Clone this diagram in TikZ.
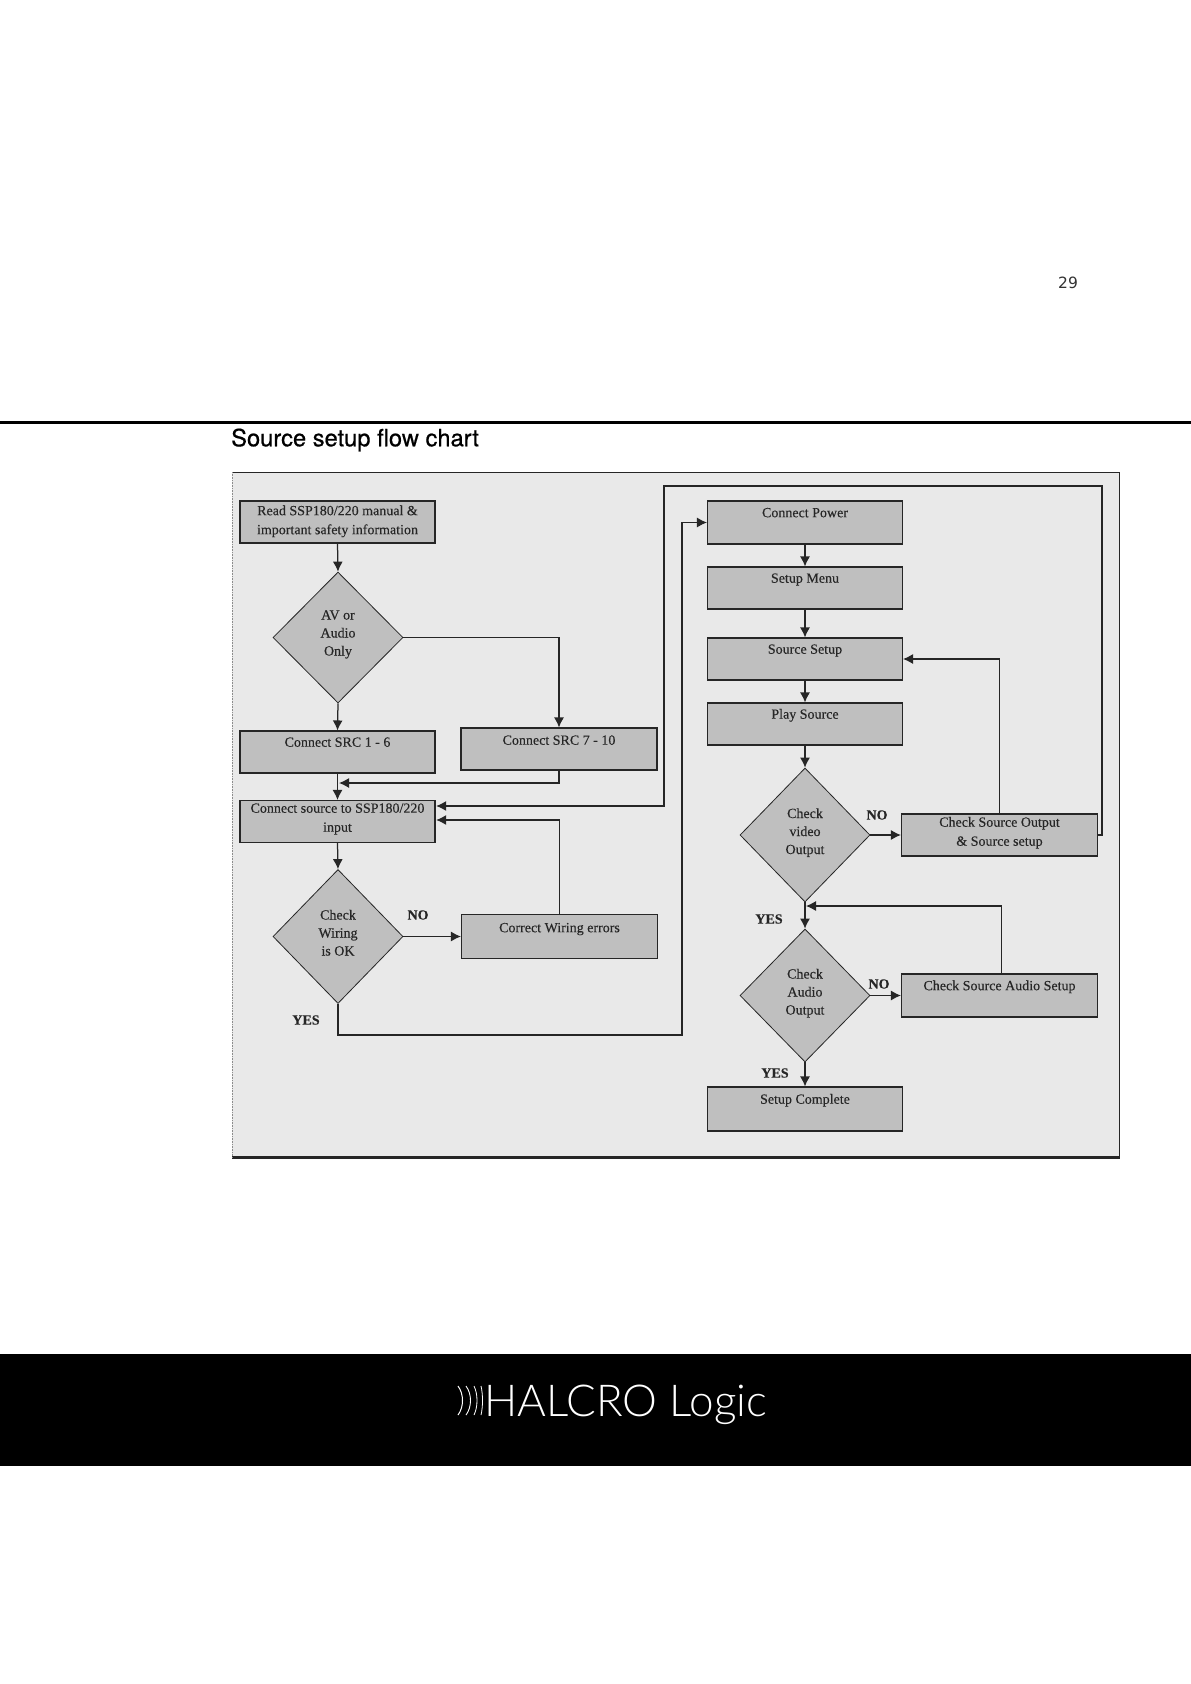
\documentclass[tikz,border=0pt]{standalone}
\usepackage{fontspec}
\usetikzlibrary{shapes.geometric,arrows.meta}
\setmainfont[RawFeature={embolden=0.25}]{Liberation Serif}
\newfontfamily\headfont{DejaVu Sans}
\newfontfamily\titlefont[RawFeature={embolden=0.6}]{TeX Gyre Heros}
\newfontfamily\logofont{Lato Light}
\definecolor{panelbg}{HTML}{E9E9E9}
\definecolor{boxbg}{HTML}{BFBFBF}
\definecolor{ink}{HTML}{262626}
\newcommand\tl[2]{\raisebox{\dimexpr#1pt-3.5pt\relax}[0pt][0pt]{\begin{tabular}[c]{@{}c@{}}#2\end{tabular}}}
\tikzset{
  x=1pt,y=-1pt,
  chartbox/.style={draw=ink,fill=boxbg,line width=1.1pt,minimum width=195pt,minimum height=42pt,inner sep=0pt,font=\fontsize{14}{19}\selectfont,text=ink},
  chartdia/.style={diamond,draw=ink,fill=boxbg,line width=0.8pt,minimum width=130pt,minimum height=131pt,inner sep=0pt,font=\fontsize{14}{18}\selectfont,text=ink},
  yn/.style={font=\fontsize{14}{16}\selectfont\bfseries,text=ink,inner sep=0pt},
  flow/.style={draw=ink,line width=1.25pt,-{Latex[length=10pt,width=10pt]}},
  thinflow/.style={flow,line width=1.1pt},
}
\begin{document}
\begin{tikzpicture}
\useasboundingbox (0,0) rectangle (1191,1684);
\fill[white] (0,0) rectangle (1191,1684);
% page furniture
\node[font=\headfont\fontsize{15.5}{18}\selectfont,text=black!80,inner sep=0pt] (pageno) at (1068,283) {29};
\fill[black] (0,420.5) rectangle (1191,423.5);
\node[font=\titlefont\fontsize{23.7}{26}\selectfont,text=black,anchor=west,inner sep=0pt] (title) at (231,440) {Source setup flow chart};
% panel
\fill[panelbg] (232,472) rectangle (1119,1158);
\draw[ink,line width=1.5pt] (232,472.5) -- (1119.5,472.5) -- (1119.5,1157);
\draw[ink,line width=2.5pt] (232,1157.5) -- (1120,1157.5);
\draw[black!45,line width=0.6pt,densely dotted] (232,472) -- (232,1157);
% left column
\node[chartbox] (read) at (337.5,522) {\tl{1}{Read SSP180/220 manual \&\\important safety information}};
\node[chartdia] (d1) at (338,637.5) {\tl{3.5}{AV or\\Audio\\Only}};
\node[chartbox] (src16) at (337.5,752) {\tl{9}{Connect SRC 1 - 6}};
\node[chartbox,minimum width=196pt] (src710) at (559,749) {\tl{8}{Connect SRC 7 - 10}};
\node[chartbox] (conn) at (337.5,821.5) {\tl{3}{Connect source to SSP180/220\\input}};
\node[chartdia,minimum height=134pt] (d2) at (338,936.5) {\tl{2.5}{Check\\Wiring\\is OK}};
\node[chartbox,minimum width=196pt,minimum height=44pt] (cw) at (559.5,936.5) {\tl{8}{Correct Wiring errors}};
% right column
\node[chartbox,minimum height=43pt] (power) at (805,522.5) {\tl{9}{Connect Power}};
\node[chartbox] (menu) at (805,588) {\tl{9}{Setup Menu}};
\node[chartbox] (ssetup) at (805,659) {\tl{9}{Source Setup}};
\node[chartbox] (play) at (805,724) {\tl{9}{Play Source}};
\node[chartdia,minimum height=134pt] (dv) at (805,835) {\tl{2.5}{Check\\video\\Output}};
\node[chartbox,minimum width=196pt,minimum height=42pt] (cso) at (999.5,835) {\tl{2.5}{Check Source Output\\\& Source setup}};
\node[chartdia,minimum height=133pt] (da) at (805,995.5) {\tl{2.5}{Check\\Audio\\Output}};
\node[chartbox,minimum width=196pt,minimum height=43pt] (csa) at (999.5,995.5) {\tl{9}{Check Source Audio Setup}};
\node[chartbox,minimum height=44pt] (done) at (805,1109) {\tl{9}{Setup Complete}};
% labels
\node[yn] (noa) at (418,915) {NO};
\node[yn] (yesa) at (306,1020) {YES};
\node[yn] (nob) at (877,815) {NO};
\node[yn] (yesb) at (769,919) {YES};
\node[yn] (noc) at (879,984) {NO};
\node[yn] (yesc) at (775,1073) {YES};
% free ends
\coordinate (m1) at (339,783);
\coordinate (p1) at (436.2,806);
\coordinate (p2) at (436.2,820);
\coordinate (m2) at (806,906);
\coordinate (c1) at (1102,835);
\coordinate (c2) at (1102,486);
\coordinate (c3) at (664,486);
\coordinate (c4) at (664,806);
\coordinate (y1) at (338,1035);
\coordinate (y2) at (682,1035);
\coordinate (y3) at (682,522.5);
% connectors
\draw[flow] (read.south) -- (d1.north);
\draw[flow] (d1.south) -- (src16.north);
\draw[flow] (d1.east) -| (src710.north);
\draw[flow] (src16.south) -- (conn.north);
\draw[flow] (src710.south) |- (m1);
\draw[flow] (conn.south) -- (d2.north);
\draw[flow] (d2.east) -- (cw.west);
\draw[thinflow] (cw.north) |- (p2);
\draw[thinflow] (d2.south) -- (y1) -- (y2) -- (y3) -- (power.west);
\draw[flow] (power.south) -- (menu.north);
\draw[flow] (menu.south) -- (ssetup.north);
\draw[flow] (ssetup.south) -- (play.north);
\draw[flow] (play.south) -- (dv.north);
\draw[flow] (dv.east) -- (cso.west);
\draw[thinflow] (cso.north) |- (ssetup.east);
\draw[thinflow] (cso.east) -- (c1) -- (c2) -- (c3) -- (c4) -- (p1);
\draw[flow] (dv.south) -- (da.north);
\draw[flow] (da.east) -- (csa.west);
\draw[thinflow] ([xshift=2pt]csa.north) |- (m2);
\draw[flow] (da.south) -- (done.north);
% footer
\fill[black] (0,1354) rectangle (1191,1466);
\node[font=\logofont\fontsize{44}{48}\selectfont,text=white,anchor=base west,inner sep=0pt] (logo) at (484,1416) {HALCRO Logic};
\foreach \xa/\b/\w in {458/6/1.0,466/6/0.9,474/4/0.8,481/2/0.8}
  \draw[white,line width=\w pt] (\xa,1386) .. controls (\xa+\b,1394) and (\xa+\b,1407) .. (\xa,1415);
\end{tikzpicture}
\end{document}
